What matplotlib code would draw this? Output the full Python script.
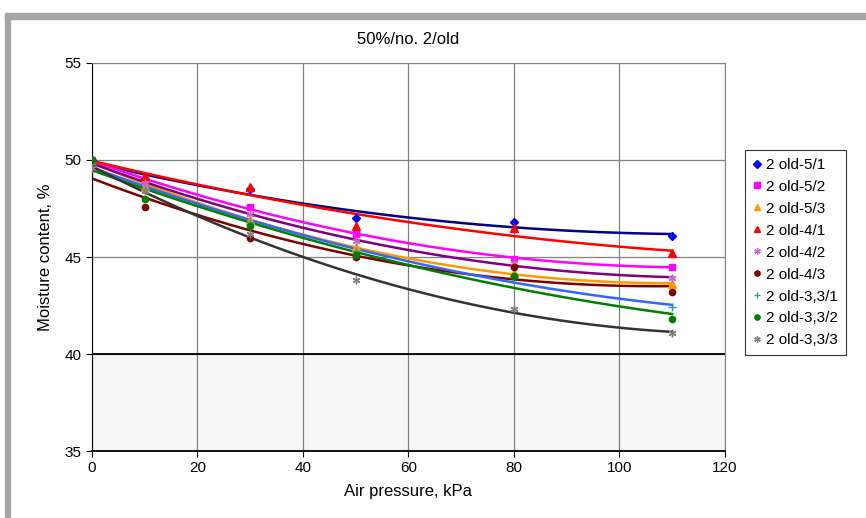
import numpy as np
import matplotlib.pyplot as plt
from matplotlib.patches import Rectangle

plt.rcParams['font.family'] = ['Liberation Sans', 'DejaVu Sans']

pressure = [0, 10, 30, 50, 80, 110]
labels = ['2 old-5/1', '2 old-5/2', '2 old-5/3', '2 old-4/1', '2 old-4/2',
          '2 old-4/3', '2 old-3,3/1', '2 old-3,3/2', '2 old-3,3/3']
moisture = [
    [50.0, 49.0, 48.5, 47.0, 46.8, 46.1],   # 5/1
    [50.0, 48.9, 47.6, 46.2, 44.9, 44.5],   # 5/2
    [50.0, 48.6, 46.9, 45.5, 44.2, 43.6],   # 5/3
    [50.0, 49.2, 48.6, 46.6, 46.5, 45.2],   # 4/1
    [49.9, 48.8, 47.2, 45.8, 44.7, 43.9],   # 4/2
    [49.6, 47.6, 46.0, 45.0, 44.5, 43.2],   # 4/3
    [49.8, 48.5, 46.8, 45.3, 44.0, 42.4],   # 3,3/1
    [50.0, 48.0, 46.6, 45.1, 44.0, 41.8],   # 3,3/2
    [49.6, 48.4, 46.2, 43.8, 42.3, 41.1],   # 3,3/3
]
markers = ['D', 's', '^', '^', (6, 2, 0), 'o', '+', 'o', (6, 2, 0)]
marker_colors = ['#0000ff', '#ff00ff', '#ff9900', '#ff0000', '#cc66cc',
                 '#800000', '#339999', '#008000', '#808080']
line_colors = ['#000080', '#ff00ff', '#ff9900', '#ff0000', '#800080',
               '#800000', '#3366ff', '#008000', '#333333']

fig = plt.figure(figsize=(8.66, 5.18), dpi=100)
ax = fig.add_axes([0.1062, 0.1293, 0.7308, 0.7491])

ax.axhspan(35, 40, color='#f7f7f7', zorder=0)
ax.axhline(40, color='black', lw=1.3, zorder=1)

xfit = np.linspace(0, 110, 100)
handles = []
for i in range(len(labels)):
    # 2nd order polynomial trendline, like the spreadsheet one
    coef = np.polyfit(pressure, moisture[i], 2)
    ax.plot(xfit, np.polyval(coef, xfit), color=line_colors[i], lw=1.8, zorder=2)
    ms = 4.5 if markers[i] in ('o', 'D', 's') else 5.5
    h, = ax.plot(pressure, moisture[i], linestyle='none', marker=markers[i],
                 color=marker_colors[i], markersize=ms, markeredgewidth=1,
                 label=labels[i], zorder=3)
    handles.append(h)

ax.set_xlim(0, 120)
ax.set_ylim(35, 55)
ax.set_xticks(range(0, 121, 20))
ax.set_yticks(range(35, 56, 5))
ax.grid(True, color='#808080', lw=0.9)
ax.set_axisbelow(True)
for s in ax.spines.values():
    s.set_color('#808080')
ax.spines['bottom'].set_color('black')
ax.spines['bottom'].set_linewidth(1.3)
ax.spines['left'].set_color('black')
ax.tick_params(direction='out', length=4, labelsize=11, colors='black')

ax.set_title('50%/no. 2/old', fontsize=12, pad=14)
ax.set_xlabel('Air pressure, kPa', fontsize=12, labelpad=6)
ax.set_ylabel('Moisture content, %', fontsize=12, labelpad=8)

leg = fig.legend(handles=handles, loc='upper left', bbox_to_anchor=(0.860, 0.71),
                 borderaxespad=0, fontsize=11, frameon=True, fancybox=False,
                 edgecolor='black', handlelength=0.6, handletextpad=0.3,
                 borderpad=0.5, labelspacing=0.52, markerscale=0.85)
leg.get_frame().set_linewidth(0.8)

# gray frame of the chart area
fig.patches.append(Rectangle((0.006, 0.0), 0.006, 0.97, transform=fig.transFigure,
                             color='#a6a6a6', zorder=0))
fig.patches.append(Rectangle((0.006, 0.964), 0.994, 0.01, transform=fig.transFigure,
                             color='#a6a6a6', zorder=0))

fig.savefig('out.png', dpi=100)
